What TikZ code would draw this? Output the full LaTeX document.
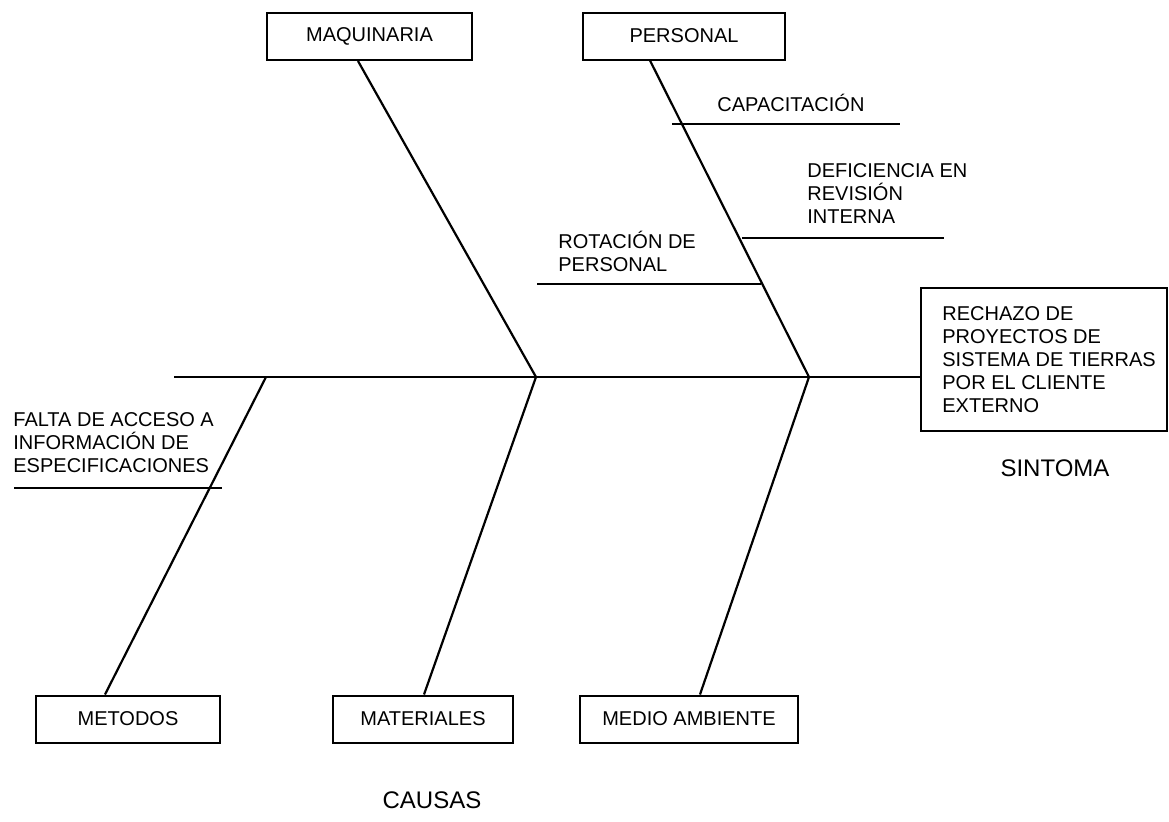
\documentclass[tikz,border=0pt]{standalone}
\usepackage{fontspec}
\setmainfont{Liberation Sans}
\usetikzlibrary{positioning}

\tikzset{
  cause/.style = {draw, line width=1pt, inner sep=0pt, minimum height=23.5pt, font=\fontsize{10}{11.5}\selectfont},
  note/.style = {anchor=west, align=left, inner sep=0pt, font=\fontsize{10}{11.5}\selectfont},
  title/.style = {inner sep=0pt, font=\fontsize{12}{14}\selectfont},
  bone/.style = {line width=1.1pt},
}

\begin{document}
\begin{tikzpicture}[x=0.5pt, y=-0.5pt]
\useasboundingbox (0,0) rectangle (1169,821);

% effect
\node[draw, line width=1pt, anchor=north west, minimum width=123pt, minimum height=71.5pt] (eff) at (920,287) {};
\node[note, right=11pt of eff.west] (efftext) {RECHAZO DE\\PROYECTOS DE\\SISTEMA DE TIERRAS\\POR EL CLIENTE\\EXTERNO};
\node[title] (sintoma) at (1055,468) {SINTOMA};

% causes
\node[cause, minimum width=102.5pt] (maq) at (369.5,36.5) {MAQUINARIA};
\node[cause, minimum width=101pt] (per) at (684,36) {PERSONAL};
\node[cause, minimum width=92pt] (met) at (128,719) {METODOS};
\node[cause, minimum width=90pt] (mat) at (423,719) {MATERIALES};
\node[cause, minimum width=109pt] (med) at (689,719) {MEDIO AMBIENTE};
\node[title] (causas) at (432,800) {CAUSAS};

% spine
\coordinate (tail) at (174,377);
\coordinate (j1) at (266,377);
\coordinate (j2) at (536,377);
\coordinate (j3) at (809,377);
\draw[bone] (tail) -- (tail -| eff.west);

% bones
\draw[bone] ([xshift=-5.75pt]maq.south) -- (j2) -- ([xshift=0.5pt]mat.north);
\draw[bone] ([xshift=-17pt]per.south) -- (j3) -- ([xshift=5.5pt]med.north);
\draw[bone] (j1) -- ([xshift=-11.5pt]met.north);

% sub causes
\node[note] (capa) at (717,103) {CAPACITACIÓN};
\coordinate (capaL) at (672,124);
\coordinate (capaR) at (900,124);
\draw[bone] (capaL) -- (capaR);

\node[note] (defi) at (807,193.5) {DEFICIENCIA EN\\REVISIÓN\\INTERNA};
\coordinate (defiL) at (742,238);
\coordinate (defiR) at (944,238);
\draw[bone] (defiL) -- (defiR);

\node[note] (rota) at (558,251) {ROTACIÓN DE\\PERSONAL};
\coordinate (rotaL) at (537,284);
\coordinate (rotaR) at (761,284);
\draw[bone] (rotaL) -- (rotaR);

\node[note] (falta) at (13,442.5) {FALTA DE ACCESO A\\INFORMACIÓN DE\\ESPECIFICACIONES};
\coordinate (faltaL) at (14,488);
\coordinate (faltaR) at (222,488);
\draw[bone] (faltaL) -- (faltaR);
\end{tikzpicture}
\end{document}
